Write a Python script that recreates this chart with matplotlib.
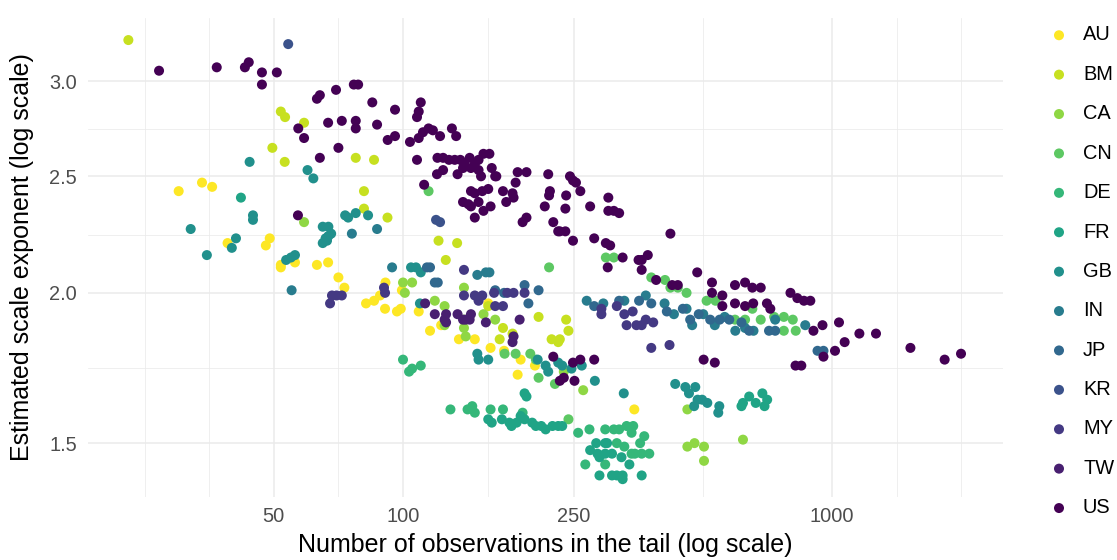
import matplotlib
matplotlib.use("Agg")
import matplotlib.pyplot as plt

plt.rcParams['font.family'] = ['Liberation Sans', 'DejaVu Sans']

countries = ["AU", "BM", "CA", "CN", "DE", "FR", "GB", "IN", "JP", "KR", "MY", "TW", "US"]
colors = ["#FDE725", "#C7E020", "#8FD744", "#5DC863", "#35B779", "#20A486", "#21908C",
          "#287C8E", "#31688E", "#3B528B", "#443983", "#481F70", "#440154"]

AU_x = [30, 34, 35.9, 39, 48.9, 47.9, 51.9, 51.9, 56, 63, 66.9, 70.7, 82, 85.6, 88.4, 90.8, 96.8, 98.8, 99.4, 91,
        73, 108.8, 115.6, 122.7, 135, 147, 160, 185, 172, 188, 203, 158, 346]
AU_y = [2.43, 2.47, 2.45, 2.20, 2.22, 2.19, 2.11, 2.10, 2.12, 2.11, 2.12, 2.06, 1.96, 1.97, 1.99, 1.94, 1.93, 1.94, 2.01, 2.04,
        2.02, 1.93, 1.86, 1.88, 1.83, 1.83, 1.80, 1.71, 1.79, 1.76, 1.74, 1.96, 1.60]

BM_x = [22.9, 51.9, 53.1, 58.8, 49.6, 53, 77.6, 85.6, 81.1, 81.1, 92, 121, 133.7, 125.8, 158, 171, 168, 180, 207, 222,
        230, 240, 243, 232]
BM_y = [3.245, 2.83, 2.80, 2.77, 2.64, 2.57, 2.59, 2.58, 2.43, 2.35, 2.31, 2.21, 2.20, 2.13, 1.95, 1.87, 1.83, 1.85, 1.91, 1.83,
        1.82, 1.90, 1.86, 1.83]

CA_x = [58.8, 100, 101, 105, 118.6, 125, 138.7, 138.7, 140, 138.7, 125, 164, 154, 237, 263, 460, 620, 460, 478, 503, 503]
CA_y = [2.29, 2.04, 2.00, 2.04, 1.97, 1.95, 1.90, 1.87, 1.84, 2.02, 1.88, 1.90, 1.92, 1.72, 1.66, 1.60, 1.51, 1.49, 1.50, 1.49, 1.45]

CN_x = [114.7, 219, 297, 310, 379, 408, 172.5, 183, 198, 204, 207, 226, 420, 437, 458, 510, 535, 594, 627, 652,
        682, 733, 772, 772, 810, 823, 243]
CN_y = [2.43, 2.10, 2.14, 2.14, 2.06, 2.05, 1.78, 1.78, 1.78, 1.76, 1.70, 1.68, 2.02, 2.02, 2.00, 1.97, 1.97, 1.90, 1.90, 1.94,
        1.90, 1.91, 1.91, 1.86, 1.90, 1.86, 1.57]

DE_x = [100, 103.3, 105, 110, 129, 141.4, 145, 147, 160, 171, 190, 256, 272, 296, 310, 319, 332, 344, 341, 365,
        357, 315, 328, 341, 347, 360, 375, 266, 296]
DE_y = [1.76, 1.72, 1.73, 1.74, 1.60, 1.60, 1.61, 1.59, 1.60, 1.60, 1.59, 1.53, 1.54, 1.54, 1.54, 1.54, 1.55, 1.55, 1.53, 1.52,
        1.50, 1.50, 1.49, 1.47, 1.47, 1.47, 1.47, 1.44, 1.44]

FR_x = [41.9, 192, 194, 158, 161, 170, 177, 179, 184, 188, 192, 200, 204, 210, 215, 223, 230, 235, 282, 296,
        284, 296, 299, 307, 323, 337, 287, 307, 315, 325, 325, 360, 273, 287, 620, 615, 641, 664, 688, 706, 696]
FR_y = [2.40, 1.65, 1.64, 1.57, 1.56, 1.57, 1.56, 1.55, 1.56, 1.58, 1.57, 1.56, 1.55, 1.55, 1.54, 1.55, 1.55, 1.55, 1.50, 1.50,
        1.47, 1.47, 1.50, 1.47, 1.46, 1.44, 1.41, 1.41, 1.41, 1.40, 1.41, 1.41, 1.48, 1.46, 1.62, 1.61, 1.64, 1.62, 1.65, 1.63, 1.61]

GB_x = [43.9, 59.9, 61.8, 32, 44.7, 44.7, 34.9, 39.9, 40.8, 53.4, 54.8, 56, 65, 67, 68, 66, 67, 65, 66.5, 73.3,
        74.5, 77.6, 82.9, 104.4, 107.2, 110, 109.5, 149, 150, 158, 206, 215, 218, 230, 235, 247, 261, 280, 327, 431,
        455, 464, 480, 486, 498, 512, 477, 546, 543]
GB_y = [2.57, 2.53, 2.49, 2.26, 2.32, 2.30, 2.15, 2.18, 2.22, 2.13, 2.14, 2.15, 2.27, 2.27, 2.24, 2.22, 2.23, 2.20, 2.21, 2.32,
        2.31, 2.33, 2.32, 2.10, 2.10, 2.08, 1.96, 1.78, 1.76, 1.76, 1.76, 1.74, 1.72, 1.75, 1.74, 1.73, 1.74, 1.69, 1.65, 1.68,
        1.67, 1.65, 1.67, 1.63, 1.63, 1.62, 1.61, 1.61, 1.59]

IN_x = [76, 87, 94.3, 149, 156, 159, 55, 268, 293, 328, 368, 407, 428, 458, 472, 501, 533, 562, 595, 627, 656, 737, 866]
IN_y = [2.24, 2.26, 2.10, 2.07, 2.08, 2.08, 2.01, 1.97, 1.96, 1.97, 1.99, 1.96, 1.92, 1.94, 1.88, 1.92, 1.88, 1.91, 1.86, 1.87,
        1.86, 1.90, 1.88]

JP_x = [113.7, 115.6, 118.6, 120.5, 164, 172, 192, 207, 196, 279, 319, 355, 379, 412, 449, 467, 489, 520, 547, 576,
        615, 641, 713, 737, 925, 955]
JP_y = [2.10, 2.10, 2.04, 2.04, 2.01, 2.00, 2.03, 2.01, 1.96, 1.95, 1.97, 1.97, 1.96, 1.93, 1.94, 1.90, 1.92, 1.90, 1.90, 1.90,
        1.89, 1.86, 1.86, 1.86, 1.79, 1.79]

KR_x = [54, 119.4, 122]
KR_y = [3.22, 2.30, 2.29]

MY_x = [68.3, 70, 72, 67.6, 90.3, 90.8, 138.7, 147, 153, 163, 164, 171, 175, 181, 192, 150, 138.7, 290, 290, 315,
        328, 343, 332, 350, 360, 368, 383, 379, 418]
MY_y = [1.99, 1.99, 1.99, 1.96, 2.02, 2.00, 1.99, 1.99, 1.99, 2.00, 1.95, 1.95, 2.00, 2.00, 2.00, 1.97, 2.09, 1.94, 1.92, 1.95,
        1.92, 1.93, 1.88, 1.88, 1.88, 1.90, 1.89, 1.80, 1.81]

TW_x = [118.6, 125, 126, 134, 138, 140, 143, 144, 156, 112.6, 126, 187, 181, 180]
TW_y = [1.92, 1.90, 1.92, 1.92, 1.90, 1.90, 1.90, 1.92, 1.89, 1.96, 1.89, 1.90, 1.84, 1.82]

US_x = [27, 36.8, 42.8, 43.7, 46.9, 46.9, 50.8, 63, 64, 69.8, 76.8, 78.6, 57, 58.8, 66.9, 72, 77.6, 77.6, 87, 84.8,
        95.8, 110, 108.8, 107.8, 92.1, 95.8, 103.8, 108.8, 111.3, 114.7, 117.4, 122, 130, 133, 70.7, 64, 56.9,
        107.8, 120.3, 124, 128, 132, 136, 139, 143, 147, 150, 154, 159, 120, 124, 134, 138, 144, 150, 152, 161,
        164, 165, 112,
        138, 142, 144, 147, 150, 153, 154, 147, 158, 160, 144,
        171, 174, 180, 181, 183, 185, 194,
        214, 218, 220, 219, 190, 194, 224, 230,
        245, 249, 253, 259, 240, 239, 273, 301, 301, 310, 319, 232, 239, 249, 279, 297, 304, 325, 300, 354,
        360, 372, 420, 360, 389, 485,
        224,
        424, 437, 525, 525, 555, 594, 627, 652, 682, 655, 705, 718, 594, 627, 555, 800, 830, 860, 890, 905,
        950, 1038, 1070, 1158, 1266, 955, 1016, 822, 848, 1523, 1830, 1998, 232, 237, 251, 249, 259, 279, 502, 533]
US_y = [3.06, 3.08, 3.08, 3.11, 3.05, 2.98, 3.05, 2.90, 2.92, 2.95, 2.98, 2.98, 2.74, 2.69, 2.77, 2.78, 2.78, 2.74, 2.76, 2.88,
        2.84, 2.88, 2.83, 2.80, 2.68, 2.70, 2.67, 2.69, 2.72, 2.74, 2.73, 2.70, 2.74, 2.70, 2.64, 2.59, 2.32,
        2.58, 2.59, 2.59, 2.58, 2.58, 2.58, 2.56, 2.59, 2.56, 2.58, 2.61, 2.61, 2.51, 2.53, 2.51, 2.54, 2.54, 2.53, 2.50, 2.54,
        2.50, 2.50, 2.46,
        2.38, 2.37, 2.43, 2.42, 2.38, 2.43, 2.34, 2.31, 2.44, 2.36, 2.36,
        2.43, 2.38, 2.42, 2.40, 2.47, 2.52, 2.52,
        2.36, 2.51, 2.43, 2.41, 2.29, 2.31, 2.29, 2.25,
        2.50, 2.48, 2.47, 2.43, 2.41, 2.35, 2.36, 2.40, 2.34, 2.34, 2.33, 2.25, 2.25, 2.21, 2.22, 2.20, 2.19, 2.14, 2.10, 2.13,
        2.13, 2.15, 2.24, 2.09, 2.05, 2.08,
        1.77,
        2.03, 2.03, 2.04, 2.00, 1.99, 2.03, 2.04, 2.02, 2.02, 1.96, 1.96, 1.94, 1.96, 1.95, 1.95, 2.00, 1.98, 1.97, 1.97, 1.86,
        1.88, 1.89, 1.82, 1.85, 1.85, 1.77, 1.79, 1.74, 1.74, 1.80, 1.76, 1.78, 1.69, 1.70, 1.69, 1.75, 1.76, 1.76, 1.76, 1.75]

series = {
    "AU": (AU_x, AU_y), "BM": (BM_x, BM_y), "CA": (CA_x, CA_y), "CN": (CN_x, CN_y),
    "DE": (DE_x, DE_y), "FR": (FR_x, FR_y), "GB": (GB_x, GB_y), "IN": (IN_x, IN_y),
    "JP": (JP_x, JP_y), "KR": (KR_x, KR_y), "MY": (MY_x, MY_y), "TW": (TW_x, TW_y),
    "US": (US_x, US_y),
}

x_major = [50, 100, 250, 1000]
x_major_labels = ["50", "100", "250", "1000"]
x_minor = [25, 35.36, 70.71, 158.1, 500, 1414, 2000]
y_major = [1.5, 2.0, 2.5, 3.0]
y_major_labels = ["1.5", "2.0", "2.5", "3.0"]
y_minor = [1.732, 2.236, 2.739]

W, H = 1117, 560
fig = plt.figure(figsize=(W / 100, H / 100), dpi=100)
left, right, top, bottom = 88, 1003, 18, 497
ax = fig.add_axes([left / W, 1 - bottom / H, (right - left) / W, (bottom - top) / H])
ax.set_xscale('log')
ax.set_yscale('log')
ax.set_xlim(18.44, 2503)
ax.set_ylim(1.353, 3.385)

for c, col in zip(countries, colors):
    xs, ys = series[c]
    ax.scatter(xs, ys, s=52, color=col, edgecolors='none', label=c, zorder=3)

ax.set_xticks(x_major)
ax.set_xticklabels(x_major_labels)
ax.set_xticks(x_minor, minor=True)
ax.set_xticklabels([""] * len(x_minor), minor=True)
ax.set_yticks(y_major)
ax.set_yticklabels(y_major_labels)
ax.set_yticks(y_minor, minor=True)
ax.set_yticklabels([""] * len(y_minor), minor=True)

ax.set_axisbelow(True)
ax.grid(which='major', color='#EBEBEB', linewidth=1.1)
ax.grid(which='minor', color='#EBEBEB', linewidth=0.55)
for s in ax.spines.values():
    s.set_visible(False)
ax.tick_params(which='both', length=0)
ax.tick_params(axis='x', which='major', labelsize=14.4, labelcolor='#4D4D4D', pad=7)
ax.tick_params(axis='y', which='major', labelsize=14.4, labelcolor='#4D4D4D', pad=8)

fig.text(545.5 / W, 1 - 545 / H, "Number of observations in the tail (log scale)",
         ha='center', va='center', fontsize=18, color='black')
fig.text(22 / W, 1 - 257 / H, "Estimated scale exponent (log scale)", rotation=90,
         ha='center', va='center', fontsize=18, color='black')

leg = ax.legend(loc='upper left', bbox_to_anchor=(1049 / W, 1 - 25.5 / H), bbox_transform=fig.transFigure,
                frameon=False, fontsize=14.4, handlelength=1.0, handletextpad=0.7,
                labelspacing=1.02, borderpad=0, borderaxespad=0, scatterpoints=1)

fig.savefig("out.png", dpi=100)
